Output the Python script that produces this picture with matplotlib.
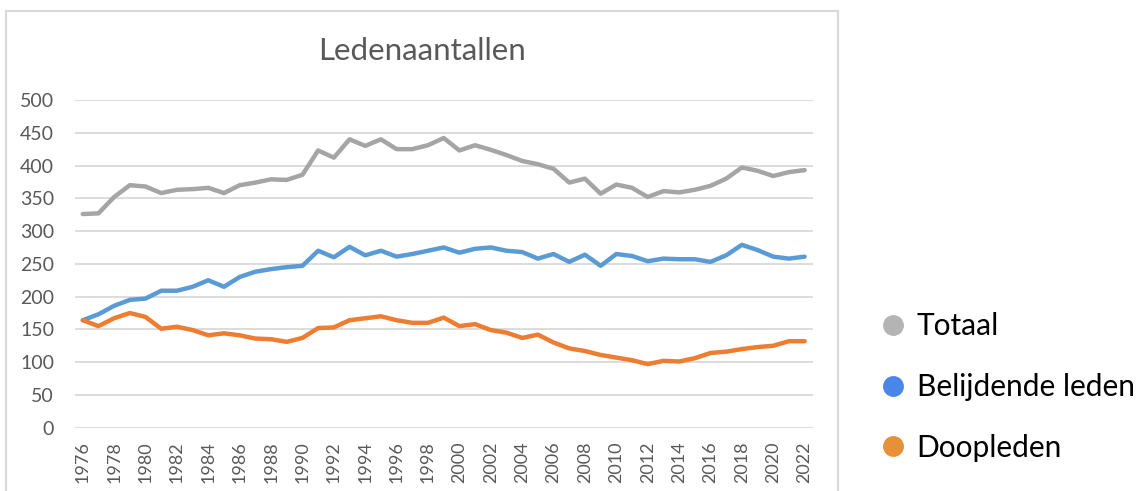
import matplotlib
matplotlib.use("Agg")
import matplotlib.pyplot as plt
from matplotlib.lines import Line2D
from matplotlib.patches import Rectangle
import numpy as np

plt.rcParams["font.family"] = ["Lato", "DejaVu Sans"]

years = np.arange(1976, 2023)

totaal = [326, 327, 352, 370, 368, 358, 363, 364, 366, 358,
          370, 374, 379, 378, 386, 423, 412, 440, 430, 440,
          425, 425, 431, 442, 423, 431, 424, 416, 407, 402,
          395, 374, 380, 357, 371, 366, 352, 361, 359, 363,
          369, 380, 397, 392, 384, 390, 393]

belijdend = [164, 173, 186, 195, 197, 209, 209, 215, 225, 215,
             230, 238, 242, 245, 247, 270, 260, 276, 263, 270,
             261, 265, 270, 275, 267, 273, 275, 270, 268, 258,
             265, 253, 264, 247, 265, 262, 254, 258, 257, 257,
             253, 263, 279, 271, 261, 258, 261]

doop = [164, 155, 167, 175, 169, 151, 154, 149, 141, 144,
        141, 136, 135, 131, 137, 152, 153, 164, 167, 170,
        164, 160, 160, 168, 155, 158, 149, 145, 137, 142,
        130, 121, 117, 111, 107, 103, 97, 102, 101, 106,
        114, 116, 120, 123, 125, 132, 132]

labels = ["Totaal", "Belijdende leden", "Doopleden"]
line_colors = ["#a5a5a5", "#5b9bd5", "#ed7d31"]
legend_colors = ["#b4b4b4", "#4a86e8", "#e69138"]

W, H = 1137, 491
fig = plt.figure(figsize=(W / 100, H / 100), dpi=100)
ax = fig.add_axes([74.9 / W, 1 - 427.7 / H, (812.5 - 74.9) / W, (427.7 - 100) / H])

for vals, c in zip([totaal, belijdend, doop], line_colors):
    ax.plot(years, vals, color=c, lw=3.2, solid_capstyle="round", solid_joinstyle="round")

ax.set_xlim(1975.5, 2022.5)
ax.set_ylim(0, 500)
ax.set_yticks(np.arange(0, 501, 50))
ax.set_xticks(years[::2])
ax.set_xticklabels([str(y) for y in years[::2]], rotation=90)
ax.grid(axis="y", color="#d9d9d9", lw=1.3)
ax.set_axisbelow(True)
for s in ax.spines.values():
    s.set_visible(False)
ax.tick_params(axis="y", length=0, pad=15, labelsize=14, labelcolor="#595959")
ax.tick_params(axis="x", length=0, pad=10, labelsize=13, labelcolor="#595959")

# chart border
fig.patches.append(Rectangle((6 / W, -0.05), (838 - 6) / W, 1.05 - 11 / H,
                             transform=fig.transFigure, fill=False,
                             edgecolor="#d9d9d9", lw=1.5, clip_on=False))

fig.text(422 / W, 1 - 51 / H, "Ledenaantallen", ha="center", va="center",
         fontsize=22.5, color="#595959")

handles = [Line2D([], [], marker="o", linestyle="none", markersize=14,
                  markerfacecolor=c, markeredgecolor=c) for c in legend_colors]
fig.legend(handles, labels, loc="center left", bbox_to_anchor=(860 / W, 1 - 387 / H),
           frameon=False, fontsize=21.5, handletextpad=0.2, labelspacing=1.1,
           borderpad=0, handlelength=1.2)

fig.savefig("out.png", dpi=100)
